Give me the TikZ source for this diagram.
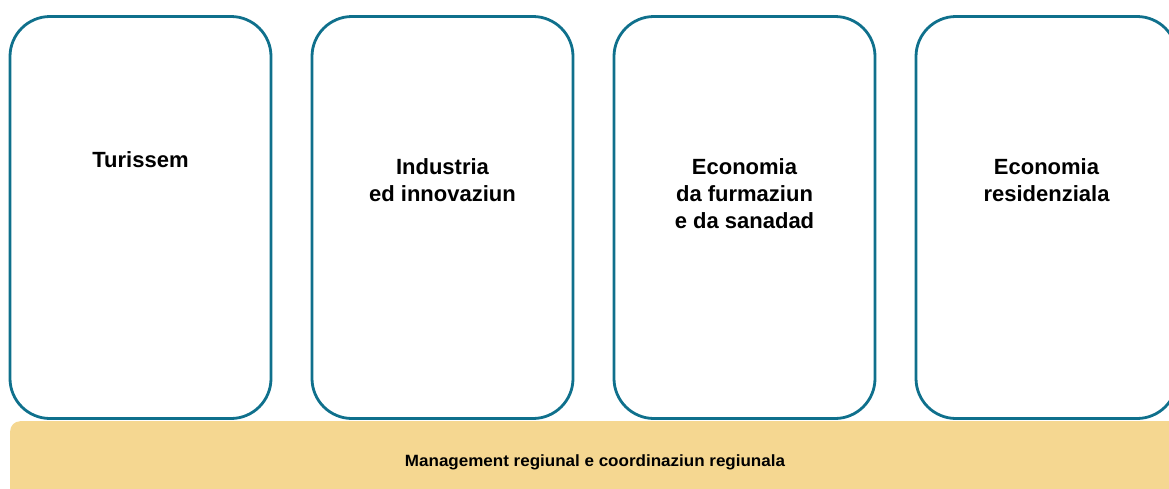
\documentclass[tikz,border=0pt]{standalone}
\usepackage{fontspec}
\setmainfont{Liberation Sans}
\usetikzlibrary{positioning}

\definecolor{boxteal}{RGB}{15,112,140}
\definecolor{baryellow}{RGB}{245,215,145}

\begin{document}
\begin{tikzpicture}[x=1pt, y=-1pt, node distance=41pt,
    sector/.style={draw=boxteal, line width=2.8pt, rounded corners=40pt, minimum width=261pt, minimum height=402pt, inner sep=0pt, outer sep=0pt},
    sectorlbl/.style={align=center, anchor=base, inner sep=0pt, font=\fontsize{22}{27.4}\selectfont\bfseries}]

\clip (0,0) rectangle (1169,488);
\useasboundingbox (0,0) rectangle (1169,488);

% Sector boxes
\node (Tur) [sector] at (140.5,217.5) {};
\node (Ind) [sector, right=of Tur] {};
\node (Edu) [sector, right=of Ind] {};
\node (Res) [sector, right=of Edu] {};

% Sector labels (base = last line)
\node (TurLbl) [sectorlbl] at ([yshift=-150.5pt]Tur.north) {Turissem};
\node (IndLbl) [sectorlbl] at ([yshift=-184.9pt]Ind.north) {Industria\\ed innovaziun};
\node (EduLbl) [sectorlbl] at ([yshift=-212.3pt]Edu.north) {Economia\\da furmaziun\\e da sanadad};
\node (ResLbl) [sectorlbl] at ([yshift=-184.9pt]Res.north) {Economia\\residenziala};

% Management bar
\node (Mgmt) [fill=baryellow, rounded corners=10pt, minimum width=1170pt, minimum height=80pt, inner sep=0pt, anchor=north west] at (10,421) {};
\node (MgmtLbl) [anchor=base, inner sep=0pt] at (595,466.7) {\resizebox{380pt}{11.8pt}{\bfseries Management regiunal e coordinaziun regiunala}};

\end{tikzpicture}
\end{document}
